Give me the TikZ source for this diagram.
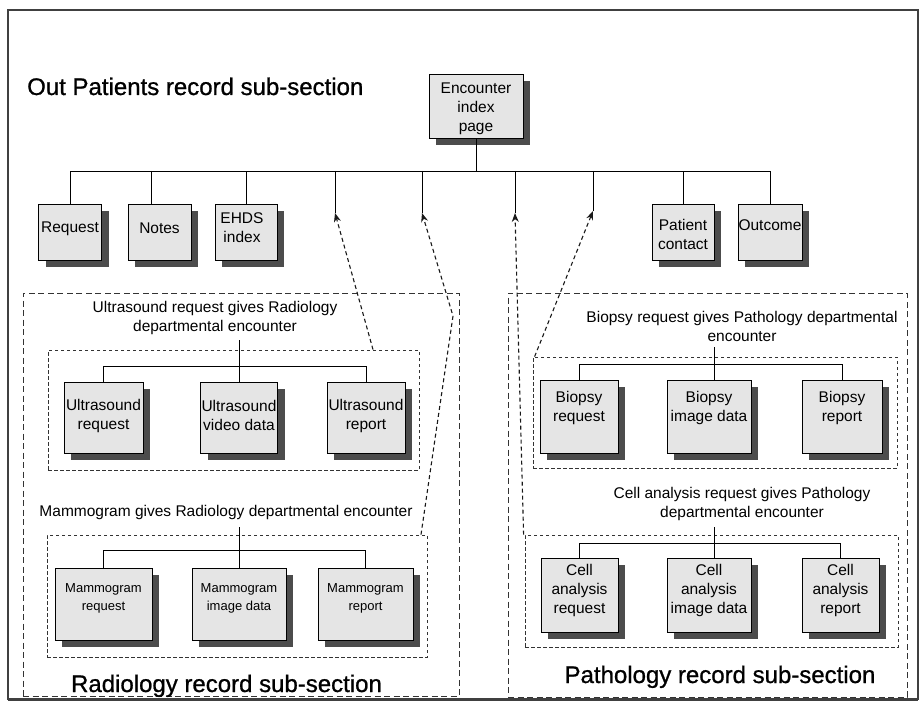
\documentclass[tikz,border=0pt]{standalone}
\usepackage{fontspec}
\setmainfont{Liberation Sans}
\newfontfamily\headfont[FakeBold=0.9]{Liberation Sans}
\usetikzlibrary{shadows,arrows.meta}
\newcommand\fsbox{\fontsize{15.5}{19}\selectfont}
\newcommand\fsmam{\fontsize{13}{18}\selectfont}
\newcommand\fstitle{\headfont\fontsize{24}{28}\selectfont}
\definecolor{boxfill}{gray}{0.9}
\definecolor{shade}{gray}{0.3}
\definecolor{framegray}{gray}{0.25}

\begin{document}
\begin{tikzpicture}[x=1pt,y=-1pt,
  rec/.style={draw=black, line width=0.9pt, fill=boxfill, inner sep=0pt,
    drop shadow={shadow xshift=7pt, shadow yshift=-7pt, fill=shade, opacity=1}},
  txt/.style={font=\fsbox, align=center, inner sep=0pt},
  mtxt/.style={font=\fsmam, align=center, inner sep=0pt},
  link/.style={draw=black, line width=0.9pt},
  outergrp/.style={draw=black!80, line width=0.8pt, dash pattern=on 6pt off 3.5pt, inner sep=0pt},
  innergrp/.style={draw=black!80, line width=0.8pt, dash pattern=on 3.5pt off 2.5pt, inner sep=0pt},
  refarrow/.style={draw=black!90, line width=1.1pt, dash pattern=on 4pt off 3pt,
    -{Stealth[length=9pt,width=7pt,inset=3pt]}},
  title/.style={font=\fstitle, inner sep=0pt},
]
\useasboundingbox (0,0) rectangle (924,706);

% page frame
\draw[framegray, line width=1.6pt] (8,10) rectangle (918,699);
\draw[framegray, line width=3pt] (8,699) -- (918,699);

% ---------- out patients record ----------
\node[title, anchor=base west] (ttl) at (27,95) {Out Patients record sub-section};

\node[rec, minimum width=94, minimum height=64,
  label={[txt,yshift=-3pt]center:Encounter\\index\\page}] (enc) at (476,106) {};

\node[rec, minimum width=63, minimum height=56,
  label={[txt,yshift=3pt]center:Request}] (req) at (70,232) {};
\node[rec, minimum width=63, minimum height=56,
  label={[txt,yshift=4pt]center:Notes}] (notes) at (159.5,232) {};
\node[rec, minimum width=62, minimum height=56,
  label={[txt,xshift=-4pt,yshift=4pt]center:EHDS\\index}] (ehds) at (246,232) {};
\node[rec, minimum width=62, minimum height=56,
  label={[txt,yshift=-2pt]center:Patient\\contact}] (pc) at (683,232) {};
\node[rec, minimum width=64, minimum height=56,
  label={[txt,yshift=7pt]center:Outcome}] (out) at (770,232) {};

\coordinate (bus) at (476,171);
\coordinate (nst) at (151,171);
\coordinate (t1) at (335,213);
\coordinate (t2) at (422,213);
\coordinate (t3) at (515,213);
\coordinate (t4) at (593,211);

\draw[link] (enc.south) -- (enc.south |- bus);
\draw[link] (req.north) -- (req.north |- bus) -- (out.north |- bus) -- (out.north);
\draw[link] (nst) -- (nst |- notes.north);
\draw[link] (ehds.north) -- (ehds.north |- bus);
\draw[link] (pc.north) -- (pc.north |- bus);
\draw[link] (t1 |- bus) -- (t1);
\draw[link] (t2 |- bus) -- (t2);
\draw[link] (t3 |- bus) -- (t3);
\draw[link] (t4 |- bus) -- (t4);

% ---------- radiology record ----------
\node[outergrp, minimum width=436, minimum height=403] (rad) at (241,494.5) {};
\node[title, anchor=base] (radt) at (226.5,692) {Radiology record sub-section};

% ultrasound encounter
\node[txt] (usl) at (215,317.5) {Ultrasound request gives Radiology\\departmental encounter};
\node[innergrp, minimum width=371, minimum height=120] (usg) at (233.5,410) {};
\node[rec, minimum width=79, minimum height=71,
  label={[txt,yshift=2pt]center:Ultrasound\\request}] (ur) at (103.5,417.5) {};
\node[rec, minimum width=77, minimum height=71,
  label={[txt,yshift=2pt]center:Ultrasound\\video data}] (uv) at (239,417.5) {};
\node[rec, minimum width=78, minimum height=71,
  label={[txt,yshift=2pt]center:Ultrasound\\report}] (urp) at (366,417.5) {};
\coordinate (ust) at (239,340);
\coordinate (usb) at (239,366);
\draw[link] (ust) -- (uv.north);
\draw[link] (ur.north) -- (ur.north |- usb) -| (urp.north);

% mammogram encounter
\node[txt] (mml) at (226,512) {Mammogram gives Radiology departmental encounter};
\node[innergrp, minimum width=380, minimum height=122] (mmg) at (237,596) {};
\node[rec, minimum width=97, minimum height=72,
  label={[mtxt,yshift=6pt]center:Mammogram\\request}] (mr) at (103.5,604) {};
\node[rec, minimum width=94, minimum height=72,
  label={[mtxt,yshift=6pt]center:Mammogram\\image data}] (mi) at (239,604) {};
\node[rec, minimum width=95, minimum height=72,
  label={[mtxt,yshift=6pt]center:Mammogram\\report}] (mrp) at (365.5,604) {};
\coordinate (mst) at (239,527);
\coordinate (msb) at (239,550);
\draw[link] (mst) -- (mi.north);
\draw[link] (mr.north) -- (mr.north |- msb) -| (mrp.north);

% ---------- pathology record ----------
\node[outergrp, minimum width=399, minimum height=404] (pat) at (707.5,495) {};
\node[title, anchor=base] (patt) at (720,683) {Pathology record sub-section};

% biopsy encounter
\node[txt] (bpl) at (742,326) {Biopsy request gives Pathology departmental\\encounter};
\node[innergrp, minimum width=364, minimum height=111] (bpg) at (715,412.5) {};
\node[rec, minimum width=78, minimum height=73,
  label={[txt,yshift=9pt]center:Biopsy\\request}] (br) at (579,416.5) {};
\node[rec, minimum width=84, minimum height=73,
  label={[txt,yshift=9pt]center:Biopsy\\image data}] (bi) at (709,416.5) {};
\node[rec, minimum width=80, minimum height=73,
  label={[txt,yshift=9pt]center:Biopsy\\report}] (brp) at (842,416.5) {};
\coordinate (bst) at (714,347);
\coordinate (bsb) at (714,364);
\draw[link] (bst) -- (bst |- bi.north);
\draw[link] (br.north) -- (br.north |- bsb) -| (brp.north);

% cell analysis encounter
\node[txt] (cal) at (742,504) {Cell analysis request gives Pathology\\departmental encounter};
\node[innergrp, minimum width=373, minimum height=112] (cag) at (711.5,591) {};
\node[rec, minimum width=77, minimum height=74,
  label={[txt,yshift=5pt]center:Cell\\analysis\\request}] (cr) at (579.5,595) {};
\node[rec, minimum width=84, minimum height=74,
  label={[txt,yshift=5pt]center:Cell\\analysis\\image data}] (ci) at (709,595) {};
\node[rec, minimum width=77, minimum height=74,
  label={[txt,yshift=5pt]center:Cell\\analysis\\report}] (crp) at (840.5,595) {};
\coordinate (cst) at (714,527);
\coordinate (csb) at (714,543);
\draw[link] (cst) -- (cst |- ci.north);
\draw[link] (cr.north) -- (cr.north |- csb) -| (crp.north);

% ---------- references from departmental encounters ----------
\coordinate (a2bend) at (453,316);
\draw[refarrow] ([xshift=139.5pt]usg.north) -- (t1);
\draw[refarrow] ([xshift=184pt]mmg.north) -- (a2bend) -- (t2);
\draw[refarrow] ([xshift=-1pt]cag.north west) -- (t3);
\draw[refarrow] ([xshift=2pt]bpg.north west) -- (t4);

\end{tikzpicture}
\end{document}
